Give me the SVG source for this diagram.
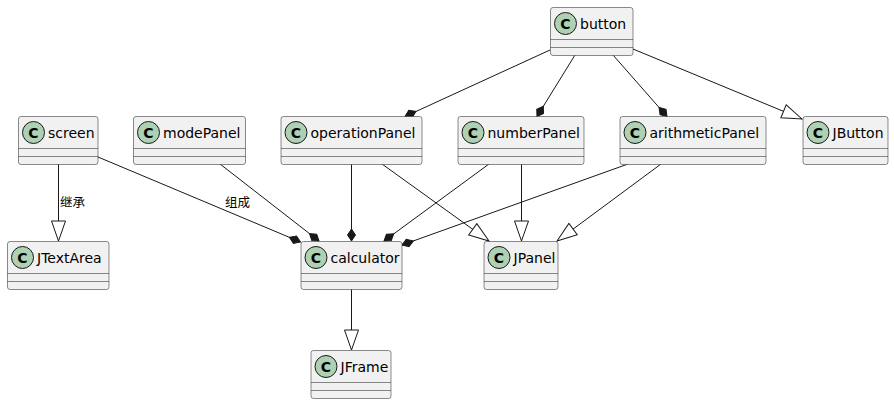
<svg xmlns="http://www.w3.org/2000/svg" width="894" height="404" viewBox="0 0 894 404">
<style>
.box{fill:#F1F1F1;stroke:#181818;stroke-width:0.5}
.sep{stroke:#181818;stroke-width:0.5}
.ci{fill:#ADD1B2;stroke:#181818;stroke-width:1}
.cl{font-family:"DejaVu Sans",sans-serif;font-size:14px;font-weight:bold;fill:#000;text-anchor:middle}
.nm{font-family:"DejaVu Sans",sans-serif;font-size:14px;fill:#000}
.lb{font-family:"DejaVu Sans","Noto Sans CJK SC",sans-serif;font-size:12.5px;fill:#000}
.e{stroke:#181818;stroke-width:1;fill:none}
</style>
<defs>
<marker id="dia" viewBox="-13 -5 14 10" refX="0" refY="0" markerWidth="14" markerHeight="10" orient="auto" markerUnits="userSpaceOnUse"><path d="M0,0 L-6,-4 L-12,0 L-6,4 Z" fill="#181818" stroke="#181818" stroke-width="1"/></marker>
<marker id="tri" viewBox="-22 -9 24 18" refX="0" refY="0" markerWidth="24" markerHeight="18" orient="auto" markerUnits="userSpaceOnUse"><path d="M0,0 L-20,-7 L-20,7 Z" fill="#fff" stroke="#181818" stroke-width="1"/></marker>
</defs>
<rect width="894" height="404" fill="#fff"/>
<g id="connectors">
<line class="e" x1="550" y1="50" x2="405" y2="116.5" marker-end="url(#dia)"/>
<line class="e" x1="575" y1="55" x2="537" y2="116.5" marker-end="url(#dia)"/>
<line class="e" x1="613" y1="55" x2="667" y2="116.5" marker-end="url(#dia)"/>
<line class="e" x1="633" y1="49" x2="802" y2="119" marker-end="url(#tri)"/>
<line class="e" x1="58.5" y1="164" x2="58.5" y2="241" marker-end="url(#tri)"/>
<text class="lb" x="60" y="207">继承</text>
<line class="e" x1="98" y1="157" x2="300.5" y2="242" marker-end="url(#dia)"/>
<text class="lb" x="225" y="207">组成</text>
<line class="e" x1="220" y1="164" x2="319" y2="241" marker-end="url(#dia)"/>
<line class="e" x1="351.5" y1="164" x2="351.5" y2="241" marker-end="url(#dia)"/>
<line class="e" x1="489" y1="164" x2="384" y2="241" marker-end="url(#dia)"/>
<line class="e" x1="628" y1="164" x2="402" y2="245" marker-end="url(#dia)"/>
<line class="e" x1="382" y1="164" x2="489" y2="241" marker-end="url(#tri)"/>
<line class="e" x1="521.5" y1="164" x2="521.5" y2="241" marker-end="url(#tri)"/>
<line class="e" x1="661" y1="164" x2="557" y2="241" marker-end="url(#tri)"/>
<line class="e" x1="351.5" y1="289" x2="351.5" y2="350" marker-end="url(#tri)"/>
</g>
<g id="button"><rect class="box" x="550.5" y="7.5" width="82.5" height="48" rx="2.5"/><line class="sep" x1="550.5" y1="39.5" x2="633" y2="39.5"/><line class="sep" x1="550.5" y1="47.5" x2="633" y2="47.5"/><circle class="ci" cx="565.5" cy="23.5" r="11"/><text class="cl" x="565.5" y="28.5">C</text><text class="nm" x="580" y="29">button</text></g>
<g id="screen"><rect class="box" x="18.5" y="116.5" width="79.5" height="48" rx="2.5"/><line class="sep" x1="18.5" y1="148.5" x2="98" y2="148.5"/><line class="sep" x1="18.5" y1="156.5" x2="98" y2="156.5"/><circle class="ci" cx="33.5" cy="132.5" r="11"/><text class="cl" x="33.5" y="137.5">C</text><text class="nm" x="48" y="138">screen</text></g>
<g id="modePanel"><rect class="box" x="133.5" y="116.5" width="112" height="48" rx="2.5"/><line class="sep" x1="133.5" y1="148.5" x2="245.5" y2="148.5"/><line class="sep" x1="133.5" y1="156.5" x2="245.5" y2="156.5"/><circle class="ci" cx="148.5" cy="132.5" r="11"/><text class="cl" x="148.5" y="137.5">C</text><text class="nm" x="163" y="138">modePanel</text></g>
<g id="operationPanel"><rect class="box" x="281" y="116.5" width="141" height="48" rx="2.5"/><line class="sep" x1="281" y1="148.5" x2="422" y2="148.5"/><line class="sep" x1="281" y1="156.5" x2="422" y2="156.5"/><circle class="ci" cx="296" cy="132.5" r="11"/><text class="cl" x="296" y="137.5">C</text><text class="nm" x="310.5" y="138">operationPanel</text></g>
<g id="numberPanel"><rect class="box" x="458" y="116.5" width="126" height="48" rx="2.5"/><line class="sep" x1="458" y1="148.5" x2="584" y2="148.5"/><line class="sep" x1="458" y1="156.5" x2="584" y2="156.5"/><circle class="ci" cx="473" cy="132.5" r="11"/><text class="cl" x="473" y="137.5">C</text><text class="nm" x="487.5" y="138">numberPanel</text></g>
<g id="arithmeticPanel"><rect class="box" x="620" y="116.5" width="146" height="48" rx="2.5"/><line class="sep" x1="620" y1="148.5" x2="766" y2="148.5"/><line class="sep" x1="620" y1="156.5" x2="766" y2="156.5"/><circle class="ci" cx="635" cy="132.5" r="11"/><text class="cl" x="635" y="137.5">C</text><text class="nm" x="649.5" y="138">arithmeticPanel</text></g>
<g id="JButton"><rect class="box" x="803" y="116.5" width="85" height="48" rx="2.5"/><line class="sep" x1="803" y1="148.5" x2="888" y2="148.5"/><line class="sep" x1="803" y1="156.5" x2="888" y2="156.5"/><circle class="ci" cx="818" cy="132.5" r="11"/><text class="cl" x="818" y="137.5">C</text><text class="nm" x="832.5" y="138">JButton</text></g>
<g id="JTextArea"><rect class="box" x="7.5" y="241.5" width="101.5" height="48" rx="2.5"/><line class="sep" x1="7.5" y1="273.5" x2="109" y2="273.5"/><line class="sep" x1="7.5" y1="281.5" x2="109" y2="281.5"/><circle class="ci" cx="22.5" cy="257.5" r="11"/><text class="cl" x="22.5" y="262.5">C</text><text class="nm" x="37" y="263">JTextArea</text></g>
<g id="calculator"><rect class="box" x="301" y="241.5" width="101" height="48" rx="2.5"/><line class="sep" x1="301" y1="273.5" x2="402" y2="273.5"/><line class="sep" x1="301" y1="281.5" x2="402" y2="281.5"/><circle class="ci" cx="316" cy="257.5" r="11"/><text class="cl" x="316" y="262.5">C</text><text class="nm" x="330.5" y="263">calculator</text></g>
<g id="JPanel"><rect class="box" x="484" y="241.5" width="74" height="48" rx="2.5"/><line class="sep" x1="484" y1="273.5" x2="558" y2="273.5"/><line class="sep" x1="484" y1="281.5" x2="558" y2="281.5"/><circle class="ci" cx="499" cy="257.5" r="11"/><text class="cl" x="499" y="262.5">C</text><text class="nm" x="513.5" y="263">JPanel</text></g>
<g id="JFrame"><rect class="box" x="311" y="350.5" width="80" height="48" rx="2.5"/><line class="sep" x1="311" y1="382.5" x2="391" y2="382.5"/><line class="sep" x1="311" y1="390.5" x2="391" y2="390.5"/><circle class="ci" cx="326" cy="366.5" r="11"/><text class="cl" x="326" y="371.5">C</text><text class="nm" x="340.5" y="372">JFrame</text></g>
</svg>
